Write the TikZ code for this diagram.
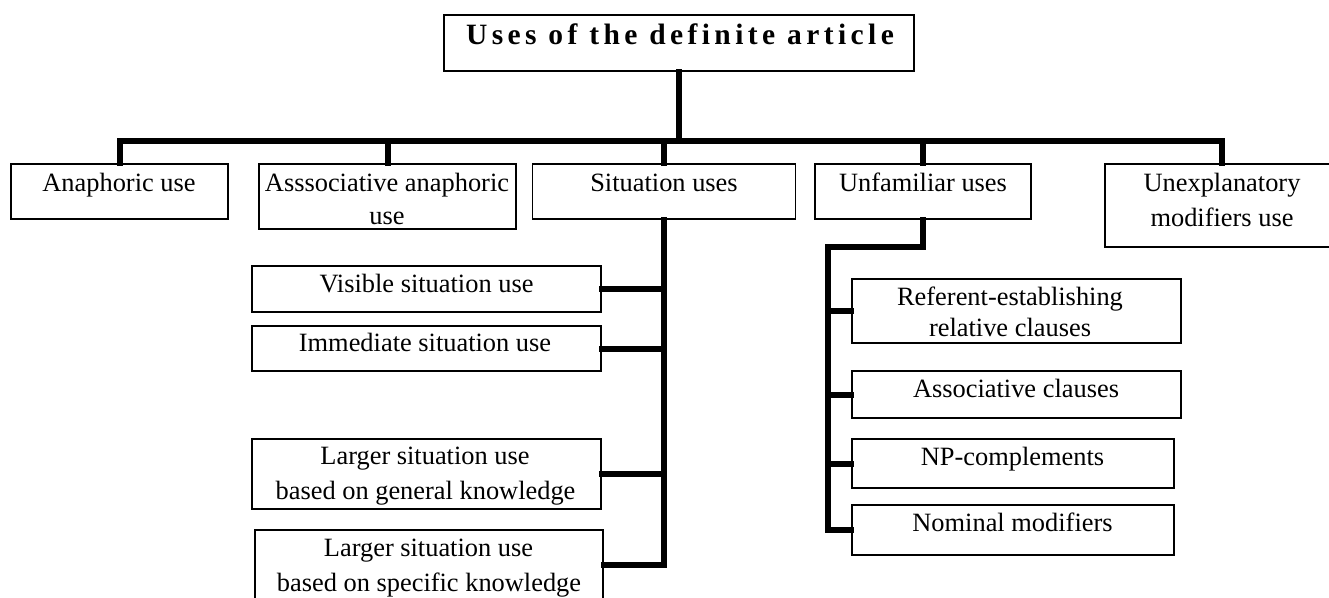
\documentclass[tikz,border=0pt]{standalone}
\usepackage{fontspec}
\setmainfont{Liberation Serif}
\newfontfamily\titlefont[LetterSpace=15]{Liberation Serif}
\begin{document}
\begin{tikzpicture}[x=1pt,y=-1pt,
  box/.style={draw, line width=1.3pt, inner sep=0pt, minimum width=#1},
  conn/.style={line width=6pt, line join=miter, line cap=rect},
  lbl/.style={inner sep=0pt, anchor=base, font=\fontsize{26.4}{30}\selectfont}]
  \useasboundingbox (0,0) rectangle (1329,597);
  \fill[white] (0,0) rectangle (1329,597);
  \clip (0,0) rectangle (1329,597);

  % top node
  \node[box=470pt, minimum height=56pt] (title) at (679,43) {};
  \node[inner sep=0pt, anchor=base, font=\titlefont\bfseries\fontsize{29.5}{31}\selectfont] (title-t) at (680,44) {Uses of the definite article};

  % first level
  \node[box=217pt, minimum height=55pt] (ana) at (119.5,191.5) {};
  \node[box=257pt, minimum height=65pt] (assoc) at (387.5,196.5) {};
  \node[box=263pt, minimum height=55pt] (sit) at (664,191.5) {};
  \node[box=216pt, minimum height=55pt] (unf) at (923,191.5) {};
  \node[box=234pt, minimum height=83pt] (unexp) at (1222,205.5) {};

  \node[lbl] (ana-t) at (119,191) {Anaphoric use};
  \node[lbl] (assoc-t1) at (387,191) {Asssociative anaphoric};
  \node[lbl] (assoc-t2) at (387,224) {use};
  \node[lbl] (sit-t) at (664,191) {Situation uses};
  \node[lbl] (unf-t) at (923,191) {Unfamiliar uses};
  \node[lbl] (unexp-t1) at (1222,191) {Unexplanatory};
  \node[lbl] (unexp-t2) at (1222,226) {modifiers use};

  % situation uses
  \node[box=349pt, minimum height=46pt] (vis) at (426.5,289) {};
  \node[box=349pt, minimum height=45pt] (imm) at (426.5,348.5) {};
  \node[box=349pt, minimum height=70pt] (gen) at (426.5,474) {};
  \node[box=348pt, minimum height=70pt] (spec) at (429,565) {};

  \node[lbl] (vis-t) at (426.5,292) {Visible situation use};
  \node[lbl] (imm-t) at (425,351) {Immediate situation use};
  \node[lbl] (gen-t1) at (425,464) {Larger situation use};
  \node[lbl] (gen-t2) at (425.5,499) {based on general knowledge};
  \node[lbl] (spec-t1) at (428.5,556) {Larger situation use};
  \node[lbl] (spec-t2) at (429,591) {based on specific knowledge};

  % unfamiliar uses
  \node[box=329pt, minimum height=64pt] (ref) at (1016.5,311) {};
  \node[box=329pt, minimum height=47pt] (acl) at (1016.5,394.5) {};
  \node[box=322pt, minimum height=49pt] (npc) at (1013,463.5) {};
  \node[box=322pt, minimum height=50pt] (nom) at (1013,530) {};

  \node[lbl] (ref-t1) at (1010,305) {Referent-establishing};
  \node[lbl] (ref-t2) at (1010,336) {relative clauses};
  \node[lbl] (acl-t) at (1016,397) {Associative clauses};
  \node[lbl] (npc-t) at (1012.5,465) {NP-complements};
  \node[lbl] (nom-t) at (1012.5,531) {Nominal modifiers};

  % connectors
  \coordinate (bus) at (679,141);
  \coordinate (jog) at (828,247);
  \draw[conn] (title.south) -- (title.south |- bus);
  \draw[conn] (ana.north) -- (ana.north |- bus) -- (unexp.north |- bus) -- (unexp.north);
  \draw[conn] (assoc.north) -- (assoc.north |- bus);
  \draw[conn] (sit.north) -- (sit.north |- bus);
  \draw[conn] (unf.north) -- (unf.north |- bus);

  \draw[conn] (sit.south) |- (spec.east);
  \foreach \n in {vis,imm,gen}
    \draw[conn] (\n.east) -- (\n.east -| sit.south);

  \draw[conn] (unf.south) |- (jog) |- (nom.west);
  \foreach \n in {ref,acl,npc}
    \draw[conn] (\n.west) -- (\n.west -| jog);
\end{tikzpicture}
\end{document}
